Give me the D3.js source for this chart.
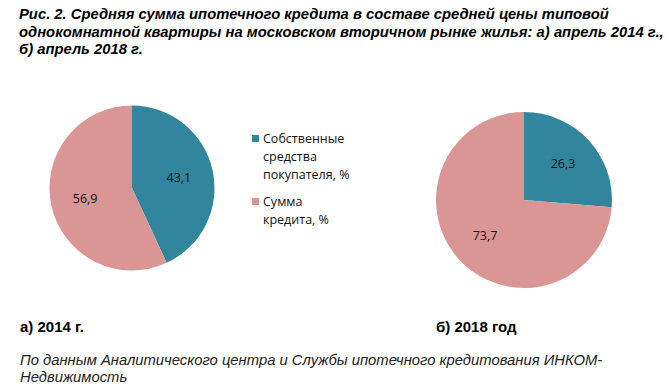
<!DOCTYPE html>
<html>
<head>
<meta charset="utf-8">
<script src="https://cdn.jsdelivr.net/npm/d3@7"></script>
<style>
  body { margin: 0; background: #fff; }
  .title { font: italic bold 14.8px "Liberation Sans", Arial, sans-serif; fill: #000; }
  .caption { font: bold 15px "Liberation Sans", Arial, sans-serif; fill: #000; }
  .note { font: italic 14.8px "Liberation Sans", Arial, sans-serif; fill: #222; }
  .slice-label { font: 12.5px "Open Sans", "Noto Sans", sans-serif; fill: #111; }
  .legend-text { font: 12.5px "Open Sans", "Noto Sans", sans-serif; fill: #111; }
</style>
</head>
<body>
<svg class="chart" width="668" height="389"></svg>
<script>
const categories = ['Собственные средства покупателя, %', 'Сумма кредита, %'];
const values2014 = [43.1, 56.9];
const values2018 = [26.3, 73.7];
const titleLines = [
  'Рис. 2. Средняя сумма ипотечного кредита в составе средней цены типовой',
  'однокомнатной квартиры на московском вторичном рынке жилья: а) апрель 2014 г.,',
  'б) апрель 2018 г.',
];
const legendLines = [['Собственные', 'средства', 'покупателя, %'], ['Сумма', 'кредита, %']];
const captions = ['а) 2014 г.', 'б) 2018 год'];
const noteLines = [
  'По данным Аналитического центра и Службы ипотечного кредитования ИНКОМ-',
  'Недвижимость',
];

const color = d3.scaleOrdinal().domain(categories).range(['#31859c', '#d99694']);
const formatValue = v => v.toFixed(1).replace('.', ',');

const drawPie = (svg, values, cx, cy, radius, labelRadius) => {
  const pie = d3.pie().sort(null).value(d => d.value);
  const arc = d3.arc().innerRadius(0).outerRadius(radius);
  const labelArc = d3.arc().innerRadius(labelRadius).outerRadius(labelRadius);
  const data = values.map((value, i) => ({ name: categories[i], value }));
  const g = svg.append('g').attr('transform', `translate(${cx}, ${cy})`);

  g.selectAll('path')
    .data(pie(data))
    .enter()
    .append('path')
    .attr('d', arc)
    .attr('fill', d => color(d.data.name));

  g.selectAll('text')
    .data(pie(data))
    .enter()
    .append('text')
    .classed('slice-label', true)
    .attr('transform', d => `translate(${labelArc.centroid(d)})`)
    .attr('text-anchor', 'middle')
    .attr('dy', '0.35em')
    .text(d => formatValue(d.data.value));
};

const startApp = () => {
  const svg = d3.select('.chart');

  svg.append('g').selectAll('text')
    .data(titleLines)
    .enter()
    .append('text')
    .classed('title', true)
    .attr('x', 19)
    .attr('y', (d, i) => 19 + i * 17.5)
    .text(d => d);

  drawPie(svg, values2014, 132, 188, 82.5, 48);
  drawPie(svg, values2018, 524, 200, 88, 53);

  const legend = svg.append('g');
  let y = 142;
  legendLines.forEach((lines, i) => {
    legend.append('rect')
      .attr('x', 252)
      .attr('y', y - 7)
      .attr('width', 7)
      .attr('height', 7)
      .attr('fill', color(categories[i]));
    lines.forEach((line, j) => {
      legend.append('text')
        .classed('legend-text', true)
        .attr('x', 263)
        .attr('y', y + j * 18)
        .attr('dy', '0.1em')
        .text(line);
    });
    y += lines.length * 18 + 9;
  });

  svg.selectAll('.caption')
    .data(captions)
    .enter()
    .append('text')
    .classed('caption', true)
    .attr('x', (d, i) => (i === 0 ? 20 : 436))
    .attr('y', 332)
    .text(d => d);

  svg.selectAll('.note')
    .data(noteLines)
    .enter()
    .append('text')
    .classed('note', true)
    .attr('x', 20)
    .attr('y', (d, i) => 365 + i * 17)
    .text(d => d);
};

window.onload = startApp;
</script>
</body>
</html>
